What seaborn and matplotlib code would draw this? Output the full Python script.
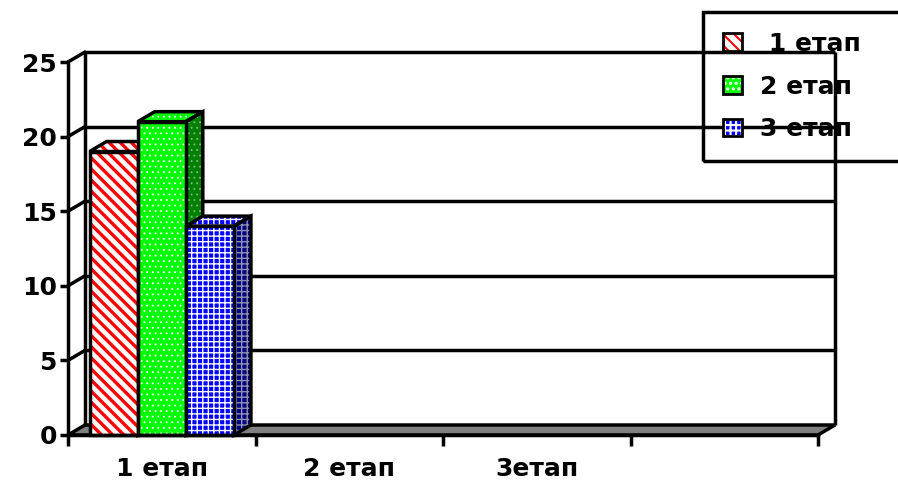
import numpy as np
import pandas as pd
import matplotlib
matplotlib.use('Agg')
import matplotlib.pyplot as plt
from matplotlib.patches import Polygon, Rectangle, Patch
from matplotlib.legend_handler import HandlerTuple
import seaborn as sns

# дані
categories = ["1 етап", "2 етап", "3етап", ""]
series = [" 1 етап", "2 етап", "3 етап"]
stage1 = [19, np.nan, np.nan, np.nan]
stage2 = [21, np.nan, np.nan, np.nan]
stage3 = [14, np.nan, np.nan, np.nan]
y_ticks = [0, 5, 10, 15, 20, 25]

df = pd.DataFrame({
    'cat': categories * 3,
    'series': np.repeat(series, len(categories)),
    'val': stage1 + stage2 + stage3,
})

# стилі: (колір грані, колір штриховки, штриховка, товщина штриховки, бокова грань, штриховка боку)
styles = [
    ('white', '#ff0000', '\\\\\\', 2.4, 'white', '#ff0000'),
    ('#00ff00', '#ffffff', '...', 0.6, '#008000', '#7fbf7f'),
    ('#0000ff', '#ffffff', '+++', 1.0, '#000080', '#9090b0'),
]

sns.set_theme(style='white')
plt.rcParams['font.family'] = ['DejaVu Sans']
plt.rcParams['font.weight'] = 'bold'
plt.rcParams['text.color'] = 'black'
plt.rcParams['xtick.color'] = 'black'
plt.rcParams['ytick.color'] = 'black'
plt.rcParams['hatch.linewidth'] = 1.5


def set_hlw(p, v):
    if hasattr(p, 'set_hatch_linewidth'):
        p.set_hatch_linewidth(v)


fig = plt.figure(figsize=(8.98, 4.8), dpi=100)
ax = fig.add_axes([68 / 898, 45 / 480, 750 / 898, 373 / 480])

sns.barplot(data=df, x='cat', y='val', hue='series', order=categories,
            hue_order=series, palette=[s[0] for s in styles], saturation=1,
            errorbar=None, width=0.77, legend=False, ax=ax)

ax.set_xlim(-0.5, 3.5)
ax.set_ylim(0, 25)

# глибина 3D у одиницях даних
dx = 17 / (750 / 4)
dy = 10 / (373 / 25)
lw = 2.5

# задня стінка, ліва стінка, підлога
ax.hlines([y + dy for y in y_ticks[1:]], -0.5 + dx, 3.5 + dx, color='black',
          lw=lw, clip_on=False, zorder=0.5)
ax.vlines([-0.5 + dx, 3.5 + dx], dy, 25 + dy, color='black', lw=lw,
          clip_on=False, zorder=0.5)
for y in y_ticks[1:]:
    ax.plot([-0.5, -0.5 + dx], [y, y + dy], color='black', lw=lw,
            clip_on=False, zorder=0.6)
floor = [(-0.5, 0), (3.5, 0), (3.5 + dx, dy), (-0.5 + dx, dy)]
ax.add_patch(Polygon(floor, facecolor='#808080', edgecolor='black', lw=lw,
                     clip_on=False, zorder=1))

# стовпці
for i, cont in enumerate(ax.containers):
    face, hcol, hatch, hlw, side, side_h = styles[i]
    for bar in cont:
        h = bar.get_height()
        if not np.isfinite(h) or h == 0:
            continue
        x, w = bar.get_x(), bar.get_width()
        bar.set_facecolor(face)
        bar.set_edgecolor(hcol)
        bar.set_hatch(hatch)
        set_hlw(bar, hlw)
        bar.set_linewidth(0)
        bar.set_zorder(2.5 + i)
        ax.add_patch(Rectangle((x, 0), w, h, fill=False, edgecolor='black',
                               lw=lw, zorder=2.51 + i, clip_on=False))
        top = [(x, h), (x + w, h), (x + w + dx, h + dy), (x + dx, h + dy)]
        sd = [(x + w, 0), (x + w + dx, dy), (x + w + dx, h + dy), (x + w, h)]
        for poly, fc, hc in ((top, face, hcol), (sd, side, side_h)):
            p = Polygon(poly, facecolor=fc, edgecolor=hc, hatch=hatch,
                        lw=0, zorder=2 + i, clip_on=False)
            set_hlw(p, hlw)
            ax.add_patch(p)
            ax.add_patch(Polygon(poly, fill=False, edgecolor='black', lw=lw,
                                 zorder=2.01 + i, clip_on=False))

for s in ['top', 'right']:
    ax.spines[s].set_visible(False)
for s in ['left', 'bottom']:
    ax.spines[s].set_color('black')
    ax.spines[s].set_linewidth(lw)
    ax.spines[s].set_zorder(5)

ax.set_yticks(y_ticks)
ax.tick_params(axis='y', length=6, width=lw, color='black', direction='out',
               pad=2, labelsize=18, left=True, labelcolor='black')
ax.set_xticks(range(len(categories)))
ax.set_xticklabels(categories)
ax.set_xticks(np.arange(-0.5, len(categories), 1), minor=True)
ax.tick_params(axis='x', which='major', length=0, pad=16, labelsize=18,
               labelcolor='black')
ax.tick_params(axis='x', which='minor', length=8, width=lw, color='black',
               direction='out', bottom=True)
ax.set_xlabel('')
ax.set_ylabel('')
ax.grid(False)

# легенда (рамка виходить за правий край, як в оригіналі)
handles = []
for face, hcol, hatch, hlw, side, side_h in styles:
    hp = Patch(facecolor=face, edgecolor=hcol, hatch=hatch, lw=0)
    set_hlw(hp, hlw)
    handles.append((hp, Patch(fill=False, edgecolor='black', lw=2)))
leg = ax.legend(handles, series, handler_map={tuple: HandlerTuple(ndivide=1)},
                loc='upper left',
                bbox_to_anchor=(703 / 898, 1 - 160 / 480, 215 / 898, 148 / 480),
                mode='expand', bbox_transform=fig.transFigure, fontsize=18,
                frameon=True, fancybox=False, framealpha=1, handlelength=0.75,
                handleheight=0.7, handletextpad=0.75, labelspacing=0.75,
                borderpad=0.8, borderaxespad=0, labelcolor='black')
leg.get_frame().set_facecolor('none')
leg.get_frame().set_edgecolor('black')
leg.get_frame().set_linewidth(lw)
leg.set_zorder(10)

fig.savefig('out.png', dpi=100)
